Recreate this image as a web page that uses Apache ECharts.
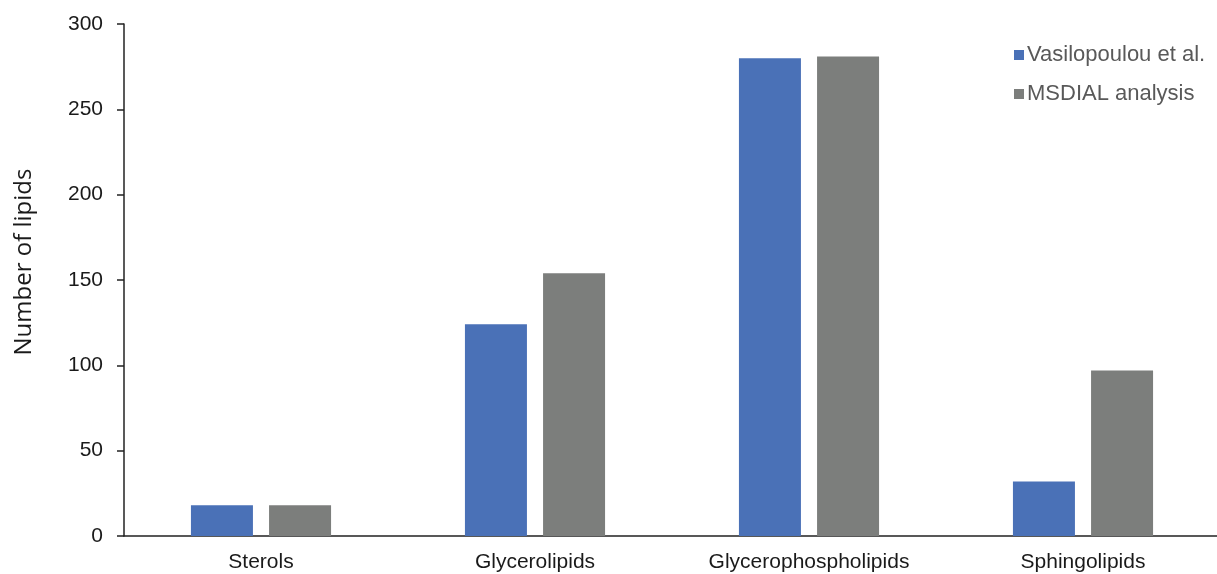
<!DOCTYPE html>
<html><head><meta charset="utf-8">
<script src="https://cdn.jsdelivr.net/npm/echarts@6/dist/echarts.min.js"></script>
<style>html,body{margin:0;padding:0;background:#fff}#c{width:1217px;height:574px}</style>
</head><body><div id="c"></div>
<script>
const categories = ['Sterols', 'Glycerolipids', 'Glycerophospholipids', 'Sphingolipids'];
const vasilopoulou = [18, 124, 280, 32];
const msdial = [18, 154, 281, 97];
const yTicks = [0, 50, 100, 150, 200, 250, 300];

const chart = echarts.init(document.getElementById('c'), null, {renderer: 'canvas'});
const font = 'Liberation Sans, Arial, sans-serif';
chart.setOption({
  animation: false,
  grid: {left: 124, width: 1096, top: 24, bottom: 38, containLabel: false, outerBoundsMode: 'none'},
  legend: {
    orient: 'vertical', left: 1009, top: 38, itemGap: 15,
    icon: 'rect', itemWidth: 10, itemHeight: 10,
    textStyle: {fontFamily: font, fontSize: 22, color: '#595959', lineHeight: 24, padding: [0,0,0,-2]},
    data: ['Vasilopoulou et al.', 'MSDIAL analysis']
  },
  xAxis: {
    type: 'category', data: categories,
    axisLine: {lineStyle: {color: '#222', width: 1.5}},
    axisTick: {show: false},
    axisLabel: {fontFamily: font, fontSize: 21, color: '#1a1a1a', margin: 16}
  },
  yAxis: {
    type: 'value', min: yTicks[0], max: yTicks[yTicks.length-1], interval: 50,
    name: 'Number of lipids', nameLocation: 'middle', nameGap: 88,
    nameTextStyle: {fontFamily: 'Open Sans, sans-serif', fontSize: 24, color: '#1a1a1a', padding: [0, 0, 0, 36]},
    axisLine: {show: true, lineStyle: {color: '#222', width: 1.5}},
    axisTick: {show: true, inside: false, length: 7, lineStyle: {color: '#222', width: 1.5}},
    splitLine: {show: false},
    axisLabel: {fontFamily: font, fontSize: 21, color: '#1a1a1a', margin: 21}
  },
  series: [
    {name: 'Vasilopoulou et al.', type: 'bar', data: vasilopoulou, barWidth: 62, barGap: '26%',
     itemStyle: {color: '#4A71B7'}},
    {name: 'MSDIAL analysis', type: 'bar', data: msdial, barWidth: 62,
     itemStyle: {color: '#7C7E7C'}}
  ]
});
</script></body></html>
